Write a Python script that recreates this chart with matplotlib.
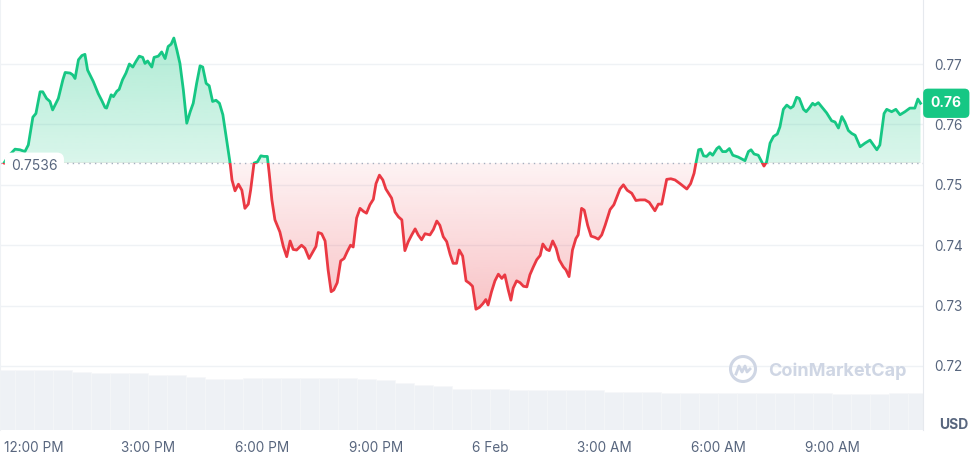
import numpy as np
import matplotlib
matplotlib.use("Agg")
import matplotlib.pyplot as plt
import matplotlib.colors as mcolors
from matplotlib.patches import Polygon, Rectangle, Ellipse

plt.rcParams['font.family'] = ['Inter', 'DejaVu Sans']

# hours after 12:00 PM (5 Feb)
hours = [
    -0.79, -0.68, -0.50, -0.37, -0.24, -0.15, -0.03, 0.05, 0.16, 0.23,
    0.33, 0.42, 0.49, 0.64, 0.76, 0.82, 0.95, 1.02, 1.08, 1.17,
    1.26, 1.34, 1.41, 1.56, 1.69, 1.78, 1.87, 1.91, 2.03, 2.09,
    2.18, 2.24, 2.33, 2.42, 2.51, 2.60, 2.68, 2.77, 2.86, 2.92,
    2.99, 3.10, 3.16, 3.27, 3.36, 3.45, 3.53, 3.61, 3.68, 3.76,
    3.84, 3.93, 4.02, 4.11, 4.19, 4.28, 4.37, 4.44, 4.53, 4.61,
    4.70, 4.79, 4.88, 4.97, 5.07, 5.16, 5.21, 5.29, 5.38, 5.47,
    5.55, 5.64, 5.70, 5.79, 5.88, 5.97, 6.05, 6.14, 6.19, 6.26,
    6.34, 6.47, 6.56, 6.65, 6.74, 6.82, 6.91, 7.04, 7.13, 7.24,
    7.33, 7.42, 7.48, 7.57, 7.66, 7.74, 7.82, 7.89, 7.98, 8.07,
    8.16, 8.24, 8.33, 8.40, 8.49, 8.58, 8.67, 8.75, 8.84, 8.93,
    9.00, 9.09, 9.18, 9.26, 9.41, 9.50, 9.59, 9.68, 9.76, 9.85,
    9.94, 10.03, 10.11, 10.20, 10.29, 10.42, 10.51, 10.60, 10.68, 10.77,
    10.86, 10.95, 11.03, 11.12, 11.19, 11.28, 11.37, 11.46, 11.54, 11.63,
    11.72, 11.81, 11.89, 11.95, 12.04, 12.13, 12.22, 12.31, 12.39, 12.48,
    12.55, 12.61, 12.70, 12.79, 12.88, 12.97, 13.05, 13.14, 13.23, 13.32,
    13.39, 13.49, 13.56, 13.65, 13.74, 13.82, 13.93, 14.00, 14.08, 14.17,
    14.26, 14.32, 14.41, 14.48, 14.57, 14.66, 14.76, 14.85, 14.94, 15.03,
    15.16, 15.26, 15.42, 15.51, 15.61, 15.73, 15.84, 15.95, 16.08, 16.19,
    16.34, 16.43, 16.52, 16.65, 16.76, 16.87, 17.00, 17.18, 17.28, 17.37,
    17.42, 17.49, 17.55, 17.62, 17.70, 17.79, 17.86, 17.97, 18.03, 18.12,
    18.21, 18.30, 18.39, 18.53, 18.71, 18.80, 18.87, 18.95, 19.06, 19.15,
    19.21, 19.28, 19.37, 19.46, 19.56, 19.63, 19.72, 19.81, 19.91, 19.98,
    20.07, 20.14, 20.25, 20.32, 20.40, 20.49, 20.55, 20.64, 20.73, 20.86,
    20.99, 21.08, 21.17, 21.26, 21.34, 21.43, 21.52, 21.61, 21.74, 21.87,
    22.00, 22.09, 22.18, 22.26, 22.37, 22.44, 22.57, 22.68, 22.79, 22.92,
    23.05, 23.18, 23.26, 23.33,
]

price = [
    0.7536, 0.7547, 0.7559, 0.7558, 0.7555, 0.7566, 0.7612, 0.7618, 0.7654, 0.7654,
    0.7643, 0.7638, 0.7624, 0.7643, 0.7674, 0.7686, 0.7685, 0.7682, 0.7676, 0.7707,
    0.7714, 0.7716, 0.7690, 0.7671, 0.7651, 0.7640, 0.7628, 0.7627, 0.7649, 0.7646,
    0.7655, 0.7658, 0.7674, 0.7685, 0.7700, 0.7695, 0.7704, 0.7713, 0.7711, 0.7701,
    0.7705, 0.7695, 0.7711, 0.7713, 0.7720, 0.7709, 0.7729, 0.7733, 0.7743, 0.7723,
    0.7701, 0.7657, 0.7602, 0.7621, 0.7635, 0.7668, 0.7697, 0.7695, 0.7668, 0.7664,
    0.7638, 0.7640, 0.7635, 0.7616, 0.7574, 0.7536, 0.7508, 0.7490, 0.7501, 0.7491,
    0.7461, 0.7468, 0.7491, 0.7536, 0.7538, 0.7548, 0.7547, 0.7547, 0.7519, 0.7475,
    0.7442, 0.7422, 0.7398, 0.7381, 0.7407, 0.7393, 0.7392, 0.7400, 0.7395, 0.7378,
    0.7388, 0.7398, 0.7421, 0.7419, 0.7407, 0.7359, 0.7323, 0.7326, 0.7338, 0.7374,
    0.7378, 0.7389, 0.7400, 0.7397, 0.7445, 0.7461, 0.7456, 0.7453, 0.7467, 0.7476,
    0.7502, 0.7516, 0.7508, 0.7493, 0.7478, 0.7455, 0.7447, 0.7442, 0.7391, 0.7406,
    0.7417, 0.7427, 0.7417, 0.7409, 0.7419, 0.7417, 0.7426, 0.7440, 0.7433, 0.7414,
    0.7406, 0.7385, 0.7370, 0.7370, 0.7392, 0.7382, 0.7341, 0.7337, 0.7332, 0.7294,
    0.7297, 0.7303, 0.7310, 0.7301, 0.7323, 0.7341, 0.7352, 0.7345, 0.7351, 0.7326,
    0.7309, 0.7329, 0.7341, 0.7338, 0.7332, 0.7331, 0.7351, 0.7364, 0.7376, 0.7383,
    0.7402, 0.7393, 0.7391, 0.7407, 0.7395, 0.7376, 0.7364, 0.7359, 0.7348, 0.7392,
    0.7411, 0.7417, 0.7461, 0.7458, 0.7433, 0.7415, 0.7413, 0.7410, 0.7417, 0.7433,
    0.7459, 0.7467, 0.7493, 0.7500, 0.7491, 0.7486, 0.7474, 0.7475, 0.7475, 0.7471,
    0.7457, 0.7468, 0.7468, 0.7509, 0.7510, 0.7508, 0.7502, 0.7493, 0.7502, 0.7519,
    0.7536, 0.7558, 0.7559, 0.7548, 0.7547, 0.7553, 0.7549, 0.7560, 0.7563, 0.7555,
    0.7555, 0.7560, 0.7549, 0.7546, 0.7540, 0.7555, 0.7558, 0.7551, 0.7549, 0.7538,
    0.7531, 0.7538, 0.7569, 0.7580, 0.7584, 0.7596, 0.7625, 0.7632, 0.7627, 0.7630,
    0.7645, 0.7643, 0.7625, 0.7621, 0.7627, 0.7635, 0.7632, 0.7636, 0.7629, 0.7619,
    0.7606, 0.7604, 0.7594, 0.7613, 0.7604, 0.7590, 0.7585, 0.7582, 0.7563, 0.7569,
    0.7574, 0.7566, 0.7558, 0.7566, 0.7618, 0.7625, 0.7621, 0.7625, 0.7616, 0.7621,
    0.7627, 0.7627, 0.7642, 0.7635,
]

open_price = 0.7536

# volume, half-hour buckets starting 11:15 AM (relative units)
volume = [
    60, 60, 60, 60, 58, 57, 57, 57, 55, 55, 53, 51, 51, 52, 52, 52, 52,
    52, 52, 51, 50, 47, 45, 44, 41, 41, 41, 40, 40, 40, 40, 40, 38, 38,
    38, 37, 37, 37, 37, 37, 37, 37, 37, 37, 36, 36, 36, 37, 37,
]
vol_hours = -0.75 + 0.5 * np.arange(len(volume))

xtick_pos = [0, 3, 6, 9, 12, 15, 18, 21]
xtick_labels = ["12:00 PM", "3:00 PM", "6:00 PM", "9:00 PM", "6 Feb",
                "3:00 AM", "6:00 AM", "9:00 AM"]
ytick_pos = [0.72, 0.73, 0.74, 0.75, 0.76, 0.77]

GREEN = "#16c784"
RED = "#ea3943"
GREY_TXT = "#58667e"
GRID = "#eff2f5"

h = np.array(hours)
p = np.array(price)
xmin, xmax = -0.895, 23.395
ymin, ymax = 0.7094, 0.7806

fig = plt.figure(figsize=(9.73, 4.55), dpi=100)
ax = fig.add_axes([0, 25 / 455, 923 / 973, 430 / 455])
axv = ax.twinx()
axv.set_zorder(ax.get_zorder() - 1)
ax.patch.set_visible(False)

# volume bars
axv.bar(vol_hours, volume, width=0.5, color="#eef1f5", edgecolor="#f6f7f9", linewidth=0.4)
axv.set_ylim(0, 430)
axv.set_yticks([])
for s in axv.spines.values():
    s.set_visible(False)


def gradient_fill(x, y, base, color, a_near, a_far, above):
    verts = np.column_stack([np.r_[x, x[::-1]], np.r_[y, np.full(len(x), base)]])
    poly = Polygon(verts, closed=True, fc="none", ec="none")
    ax.add_patch(poly)
    img = np.zeros((256, 1, 4))
    img[..., :3] = mcolors.to_rgb(color)
    if above:
        img[:, 0, 3] = np.linspace(a_near, a_far, 256)
        extent = [x[0], x[-1], base, y.max()]
    else:
        img[:, 0, 3] = np.linspace(a_far, a_near, 256)
        extent = [x[0], x[-1], y.min(), base]
    im = ax.imshow(img, extent=extent, origin="lower", aspect="auto",
                   interpolation="bilinear", zorder=1)
    im.set_clip_path(poly)


gradient_fill(h, p, open_price, GREEN, 0.16, 0.34, True)
gradient_fill(h, p, open_price, RED, 0.06, 0.30, False)

# price line, green above the open and red below
up, = ax.plot(h, p, color=GREEN, lw=2.0, zorder=3, solid_joinstyle="round")
dn, = ax.plot(h, p, color=RED, lw=2.0, zorder=3, solid_joinstyle="round")
up.set_clip_path(Rectangle((xmin, open_price), xmax - xmin, 1, transform=ax.transData))
dn.set_clip_path(Rectangle((xmin, 0), xmax - xmin, open_price, transform=ax.transData))

ax.axhline(open_price, color="#a6afc0", lw=1, ls=(0, (1, 3)), zorder=2)

ax.set_xlim(xmin, xmax)
ax.set_ylim(ymin, ymax)

ax.set_xticks(xtick_pos)
ax.set_xticklabels(xtick_labels)
ax.set_yticks(ytick_pos)
ax.set_yticklabels([f"{v:.2f}" for v in ytick_pos])
ax.yaxis.tick_right()
ax.tick_params(axis="x", length=0, pad=8, labelsize=9.8, labelcolor=GREY_TXT)
ax.tick_params(axis="y", length=0, pad=8, labelsize=9.8, labelcolor=GREY_TXT)
ax.grid(axis="y", color=GRID, lw=1)
ax.set_axisbelow(True)
for side in ["top", "bottom"]:
    ax.spines[side].set_visible(False)
ax.spines["right"].set_color("#e6e9ee")
ax.spines["left"].set_color("#eff2f5")

# current price tag
ax.annotate(f"{p[-1]:.2f}", xy=(1, p[-1]), xycoords=("axes fraction", "data"),
            xytext=(5.6, 0), textcoords="offset points", ha="left", va="center",
            color="white", fontsize=10, fontweight="bold", zorder=6,
            bbox=dict(boxstyle="round,pad=0.55,rounding_size=0.35", fc=GREEN, ec="none"),
            annotation_clip=False)

# open price label
ax.annotate(f"{open_price:.4f}", xy=(0, open_price), xycoords=("axes fraction", "data"),
            xytext=(8, -2), textcoords="offset points", ha="left", va="center",
            color=GREY_TXT, fontsize=10, zorder=6,
            bbox=dict(boxstyle="round,pad=0.45,rounding_size=0.5", fc="white", ec="none"))

fig.text(968 / 973, 1 - 425 / 455, "USD", ha="right", va="center",
         color=GREY_TXT, fontsize=10, fontweight="bold")

# watermark
wm = "#cfd6e4"
ax.text(768 / 923, 1 - 371 / 430, "CoinMarketCap", transform=ax.transAxes,
        ha="left", va="center", color=wm, fontsize=13, fontweight="bold", zorder=2)
ax.add_patch(Ellipse((743 / 923, 1 - 369 / 430), 25 / 923, 25 / 430,
                     transform=ax.transAxes, fill=False, ec=wm, lw=2.2, zorder=2))
mx = np.array([-7, -4, -1, 2, 4, 7]) / 923 + 743 / 923
my = 1 - (369 + np.array([5, -3, 3, -3, 3, 0])) / 430
ax.plot(mx, my, transform=ax.transAxes, color=wm, lw=2, zorder=2)

fig.savefig("out.png", dpi=100, facecolor="white")
